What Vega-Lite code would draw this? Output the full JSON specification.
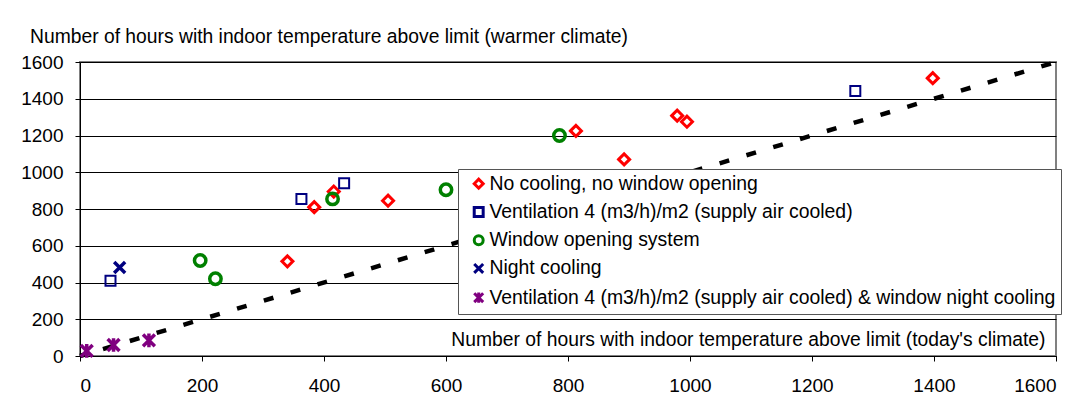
{
  "$schema": "https://vega.github.io/schema/vega-lite/v6.json",
  "width": 976,
  "height": 294,
  "autosize": "none",
  "padding": {"left": 80, "top": 62, "right": 21, "bottom": 52},
  "background": "white",
  "config": {
    "font": "Liberation Sans",
    "view": {"stroke": "#808080", "strokeWidth": 2},
    "axis": {
      "labelFont": "Liberation Sans",
      "titleFont": "Liberation Sans",
      "labelFontSize": 19,
      "titleFontSize": 19.3,
      "labelColor": "black",
      "titleColor": "black",
      "titleFontWeight": "normal",
      "domainColor": "black",
      "domainWidth": 1,
      "tickColor": "black",
      "tickWidth": 1,
      "tickSize": 5,
      "labelOverlap": false,
      "format": "d"
    },
    "legend": {"labelFont": "Liberation Sans"}
  },
  "datasets": {
    "points": [
      {"series": "No cooling, no window opening", "today": 340, "warmer": 515},
      {"series": "No cooling, no window opening", "today": 384, "warmer": 810},
      {"series": "No cooling, no window opening", "today": 416, "warmer": 895},
      {"series": "No cooling, no window opening", "today": 505, "warmer": 845},
      {"series": "No cooling, no window opening", "today": 813, "warmer": 1225},
      {"series": "No cooling, no window opening", "today": 892, "warmer": 1070},
      {"series": "No cooling, no window opening", "today": 979, "warmer": 1308},
      {"series": "No cooling, no window opening", "today": 995, "warmer": 1275},
      {"series": "No cooling, no window opening", "today": 1398, "warmer": 1512},
      {"series": "Ventilation 4 (m3/h)/m2 (supply air cooled)", "today": 50, "warmer": 410},
      {"series": "Ventilation 4 (m3/h)/m2 (supply air cooled)", "today": 363, "warmer": 855},
      {"series": "Ventilation 4 (m3/h)/m2 (supply air cooled)", "today": 433, "warmer": 940},
      {"series": "Ventilation 4 (m3/h)/m2 (supply air cooled)", "today": 1271, "warmer": 1442},
      {"series": "Window opening system", "today": 197, "warmer": 520},
      {"series": "Window opening system", "today": 222, "warmer": 420},
      {"series": "Window opening system", "today": 414, "warmer": 855},
      {"series": "Window opening system", "today": 600, "warmer": 905},
      {"series": "Window opening system", "today": 786, "warmer": 1200},
      {"series": "Night cooling", "today": 65, "warmer": 482},
      {"series": "Ventilation 4 (m3/h)/m2 (supply air cooled) & window night cooling", "today": 11, "warmer": 28},
      {"series": "Ventilation 4 (m3/h)/m2 (supply air cooled) & window night cooling", "today": 55, "warmer": 60},
      {"series": "Ventilation 4 (m3/h)/m2 (supply air cooled) & window night cooling", "today": 113, "warmer": 85}
    ],
    "diag": [
      {"today": 0, "warmer": 0},
      {"today": 1600, "warmer": 1600}
    ]
  },
  "encoding": {
    "x": {
      "field": "today",
      "type": "quantitative",
      "scale": {"domain": [0, 1600], "nice": false},
      "axis": {
        "values": [0, 200, 400, 600, 800, 1000, 1200, 1400, 1600],
        "grid": false,
        "labelPadding": 15,
        "title": "Number of hours with indoor temperature above limit (today's climate)",
        "titleX": 965,
        "titleY": -10.5,
        "titleAlign": "right",
        "titleBaseline": "alphabetic",
        "titleAngle": 0
      }
    },
    "y": {
      "field": "warmer",
      "type": "quantitative",
      "scale": {"domain": [0, 1600], "nice": false},
      "axis": {
        "values": [0, 200, 400, 600, 800, 1000, 1200, 1400, 1600],
        "grid": true,
        "gridColor": "black",
        "gridWidth": 1,
        "gridOpacity": 1,
        "labelPadding": 12,
        "title": "Number of hours with indoor temperature above limit (warmer climate)",
        "titleAngle": 0,
        "titleX": -50.5,
        "titleY": -20,
        "titleAlign": "left",
        "titleBaseline": "alphabetic"
      }
    },
    "color": {
      "field": "series",
      "type": "nominal",
      "sort": null,
      "scale": {
        "domain": [
          "No cooling, no window opening",
          "Ventilation 4 (m3/h)/m2 (supply air cooled)",
          "Window opening system",
          "Night cooling",
          "Ventilation 4 (m3/h)/m2 (supply air cooled) & window night cooling"
        ],
        "range": ["#FF0000", "#000080", "#008000", "#000080", "#800080"]
      },
      "legend": {
        "title": null,
        "orient": "none",
        "legendX": 378,
        "legendY": 107,
        "fillColor": "white",
        "strokeColor": "#555555",
        "padding": 5,
        "rowPadding": 6.25,
        "labelFontSize": 19.4,
        "labelColor": "black",
        "labelLimit": 1000,
        "labelOffset": 1,
        "symbolSize": 80,
        "symbolStrokeWidth": 3,
        "symbolOffset": 6
      }
    },
    "shape": {
      "field": "series",
      "type": "nominal",
      "sort": null,
      "scale": {
        "domain": [
          "No cooling, no window opening",
          "Ventilation 4 (m3/h)/m2 (supply air cooled)",
          "Window opening system",
          "Night cooling",
          "Ventilation 4 (m3/h)/m2 (supply air cooled) & window night cooling"
        ],
        "range": ["diamond", "square", "circle", "M-1,-1L1,1M1,-1L-1,1", "M-1,-1L1,1M1,-1L-1,1M0,-1.15L0,1.15"]
      }
    }
  },
  "layer": [
    {
      "data": {"name": "diag"},
      "mark": {"type": "line", "color": "black", "strokeWidth": 4.5, "strokeDash": [10, 18], "strokeDashOffset": 4},
      "encoding": {"color": {"value": "black"}, "shape": null}
    },
    {
      "data": {"name": "points"},
      "transform": [{"filter": "datum.series === 'No cooling, no window opening'"}],
      "mark": {"type": "point", "filled": false, "opacity": 1, "size": 121, "strokeWidth": 3}
    },
    {
      "data": {"name": "points"},
      "transform": [{"filter": "datum.series === 'Ventilation 4 (m3/h)/m2 (supply air cooled)'"}],
      "mark": {"type": "point", "filled": false, "opacity": 1, "size": 100, "strokeWidth": 2}
    },
    {
      "data": {"name": "points"},
      "transform": [{"filter": "datum.series === 'Window opening system'"}],
      "mark": {"type": "point", "filled": false, "opacity": 1, "size": 130, "strokeWidth": 3.5}
    },
    {
      "data": {"name": "points"},
      "transform": [{"filter": "datum.series === 'Night cooling'"}],
      "mark": {"type": "point", "filled": false, "opacity": 1, "size": 120, "strokeWidth": 3.5}
    },
    {
      "data": {"name": "points"},
      "transform": [{"filter": "datum.series === 'Ventilation 4 (m3/h)/m2 (supply air cooled) & window night cooling'"}],
      "mark": {"type": "point", "filled": false, "opacity": 1, "size": 140, "strokeWidth": 3.5}
    }
  ]
}
